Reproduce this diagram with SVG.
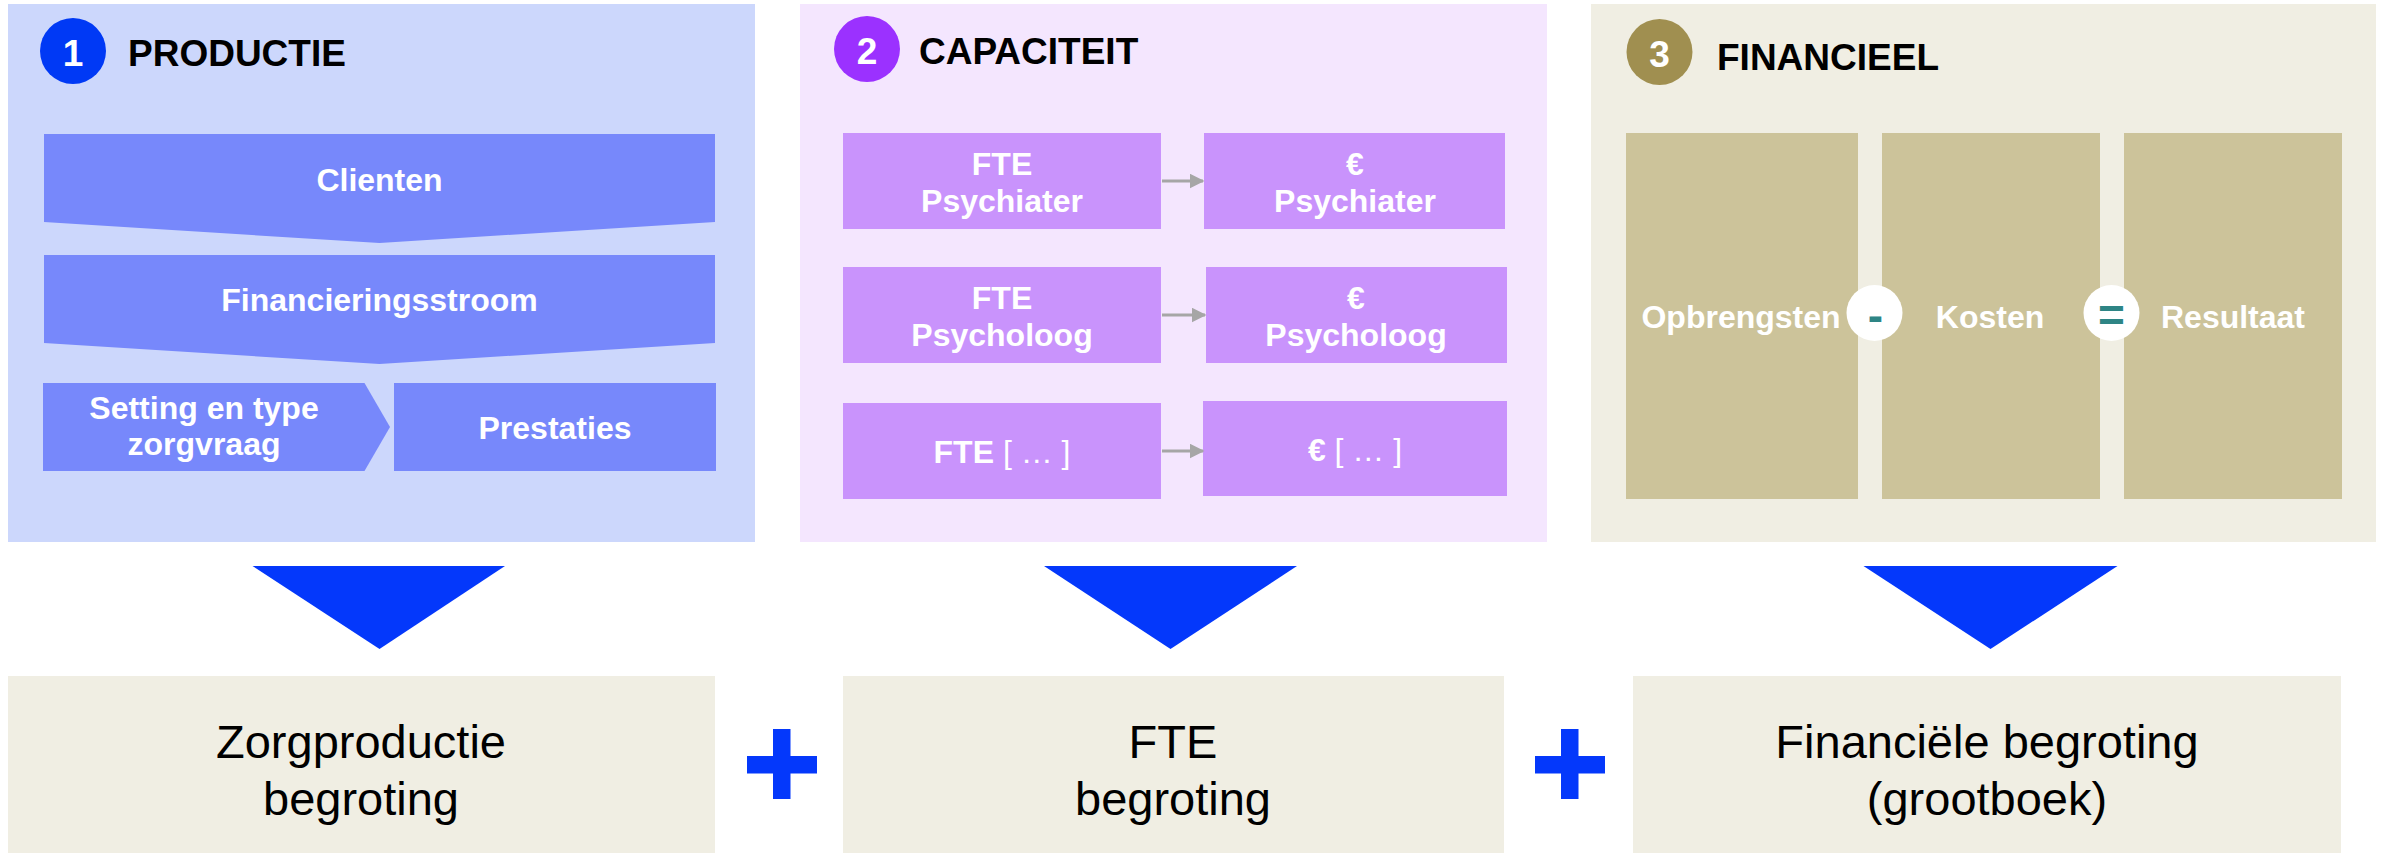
<svg xmlns="http://www.w3.org/2000/svg" width="2389" height="853" viewBox="0 0 2389 853">
<defs>
<style>
.bold{font-family:"Liberation Sans",Arial,sans-serif;font-weight:bold;}
.reg{font-family:"Liberation Sans",Arial,sans-serif;font-weight:normal;}
.title{font-size:37px;fill:#000;}
.num{font-size:37px;fill:#fff;text-anchor:middle;}
.wt{font-size:32px;fill:#fff;text-anchor:middle;}
.big{font-size:47px;fill:#000;text-anchor:middle;}
.chev{fill:#7788FB;}
.pbox{fill:#C993FC;}
.col{fill:#CCC39A;}
.res{fill:#F0EEE3;}
.tri{fill:#0438FB;}
.conn{stroke:#A6A6A6;stroke-width:3;fill:none;}
.op{fill:#2E8585;font-size:46px;text-anchor:middle;}
</style>
<marker id="ah" viewBox="0 0 10 10" refX="9" refY="5" markerWidth="5" markerHeight="5" markerUnits="strokeWidth" orient="auto">
<path d="M0,0 L10,5 L0,10 z" fill="#A6A6A6"/>
</marker>
</defs>
<rect width="2389" height="853" fill="#fff"/>

<g id="panel-productie">
<rect x="8" y="4" width="747" height="538" fill="#CCD7FC"/>
<circle cx="73" cy="51" r="33" fill="#0039F5"/>
<text class="bold num" x="73" y="66">1</text>
<text class="bold title" x="128" y="66">PRODUCTIE</text>
</g>
<g id="node-clienten">
<polygon class="chev" points="44,134 715,134 715,222 379.5,243 44,222"/>
<text class="bold wt" x="379.5" y="191">Clienten</text>
</g>
<g id="node-financieringsstroom">
<polygon class="chev" points="44,255 715,255 715,343 379.5,364 44,343"/>
<text class="bold wt" x="379.5" y="311">Financieringsstroom</text>
</g>
<g id="node-setting">
<polygon class="chev" points="43,383 364.5,383 390,427 364.5,471 43,471"/>
<text class="bold wt" x="204" y="419">Setting en type</text>
<text class="bold wt" x="204" y="455">zorgvraag</text>
</g>
<g id="node-prestaties">
<rect class="chev" x="394" y="383" width="322" height="88"/>
<text class="bold wt" x="555" y="439">Prestaties</text>
</g>

<g id="panel-capaciteit">
<rect x="800" y="4" width="747" height="538" fill="#F4E6FE"/>
<circle cx="867" cy="49" r="33" fill="#9B31FF"/>
<text class="bold num" x="867" y="64">2</text>
<text class="bold title" x="919" y="64">CAPACITEIT</text>
</g>
<g id="node-fte-psychiater">
<rect class="pbox" x="843" y="133" width="318" height="96"/>
<text class="bold wt" x="1002" y="175">FTE</text>
<text class="bold wt" x="1002" y="212">Psychiater</text>
</g>
<g id="node-eur-psychiater">
<rect class="pbox" x="1204" y="133" width="301" height="96"/>
<text class="bold wt" x="1355" y="175">€</text>
<text class="bold wt" x="1355" y="212">Psychiater</text>
</g>
<g id="node-fte-psycholoog">
<rect class="pbox" x="843" y="267" width="318" height="96"/>
<text class="bold wt" x="1002" y="309">FTE</text>
<text class="bold wt" x="1002" y="346">Psycholoog</text>
</g>
<g id="node-eur-psycholoog">
<rect class="pbox" x="1206" y="267" width="301" height="96"/>
<text class="bold wt" x="1356" y="309">€</text>
<text class="bold wt" x="1356" y="346">Psycholoog</text>
</g>
<g id="node-fte-overig">
<rect class="pbox" x="843" y="403" width="318" height="96"/>
<text class="wt" x="1002" y="463"><tspan class="bold">FTE</tspan><tspan class="reg"> [ … ]</tspan></text>
</g>
<g id="node-eur-overig">
<rect class="pbox" x="1203" y="401" width="304" height="95"/>
<text class="wt" x="1355" y="461"><tspan class="bold">€</tspan><tspan class="reg"> [ … ]</tspan></text>
</g>

<g id="panel-financieel">
<rect x="1591" y="4" width="785" height="538" fill="#F0EEE3"/>
<circle cx="1659.5" cy="52" r="33" fill="#A08F50"/>
<text class="bold num" x="1659.5" y="67">3</text>
<text class="bold title" x="1717" y="70">FINANCIEEL</text>
</g>
<g id="node-opbrengsten">
<rect class="col" x="1626" y="133" width="232" height="366"/>
<text class="bold wt" x="1741" y="327.5">Opbrengsten</text>
</g>
<g id="node-kosten">
<rect class="col" x="1882" y="133" width="218" height="366"/>
<text class="bold wt" x="1990" y="327.5">Kosten</text>
</g>
<g id="node-resultaat">
<rect class="col" x="2124" y="133" width="218" height="366"/>
<text class="bold wt" x="2233" y="327.5">Resultaat</text>
</g>
<g id="op-minus">
<circle cx="1874.5" cy="313" r="28" fill="#fff"/>
<text class="bold op" x="1875.5" y="331">-</text>
</g>
<g id="op-equals">
<circle cx="2111.5" cy="313" r="28" fill="#fff"/>
<text class="bold op" x="2111.5" y="331">=</text>
</g>

<g id="node-zorgproductie-begroting">
<rect class="res" x="8" y="676" width="707" height="177"/>
<text class="reg big" x="361" y="758">Zorgproductie</text>
<text class="reg big" x="361" y="815">begroting</text>
</g>
<g id="node-fte-begroting">
<rect class="res" x="843" y="676" width="661" height="177"/>
<text class="reg big" x="1173" y="758">FTE</text>
<text class="reg big" x="1173" y="815">begroting</text>
</g>
<g id="node-financiele-begroting">
<rect class="res" x="1633" y="676" width="708" height="177"/>
<text class="reg big" x="1987" y="758">Financiële begroting</text>
<text class="reg big" x="1987" y="815">(grootboek)</text>
</g>
<g id="plus-1">
<rect class="tri" x="773" y="729" width="17.5" height="70"/>
<rect class="tri" x="747" y="756" width="70" height="17.5"/>
</g>
<g id="plus-2">
<rect class="tri" x="1561" y="729" width="17.5" height="70"/>
<rect class="tri" x="1535" y="756" width="70" height="17.5"/>
</g>

<g id="connectors">
<line class="conn" x1="1162" y1="181" x2="1203" y2="181" marker-end="url(#ah)"/>
<line class="conn" x1="1162" y1="315" x2="1205" y2="315" marker-end="url(#ah)"/>
<line class="conn" x1="1162" y1="451" x2="1203" y2="451" marker-end="url(#ah)"/>
<polygon class="tri" points="252.5,566 505,566 379.5,649"/>
<polygon class="tri" points="1044,566 1297,566 1170.5,649"/>
<polygon class="tri" points="1863.5,566 2117.5,566 1990.5,649"/>
</g>
</svg>
